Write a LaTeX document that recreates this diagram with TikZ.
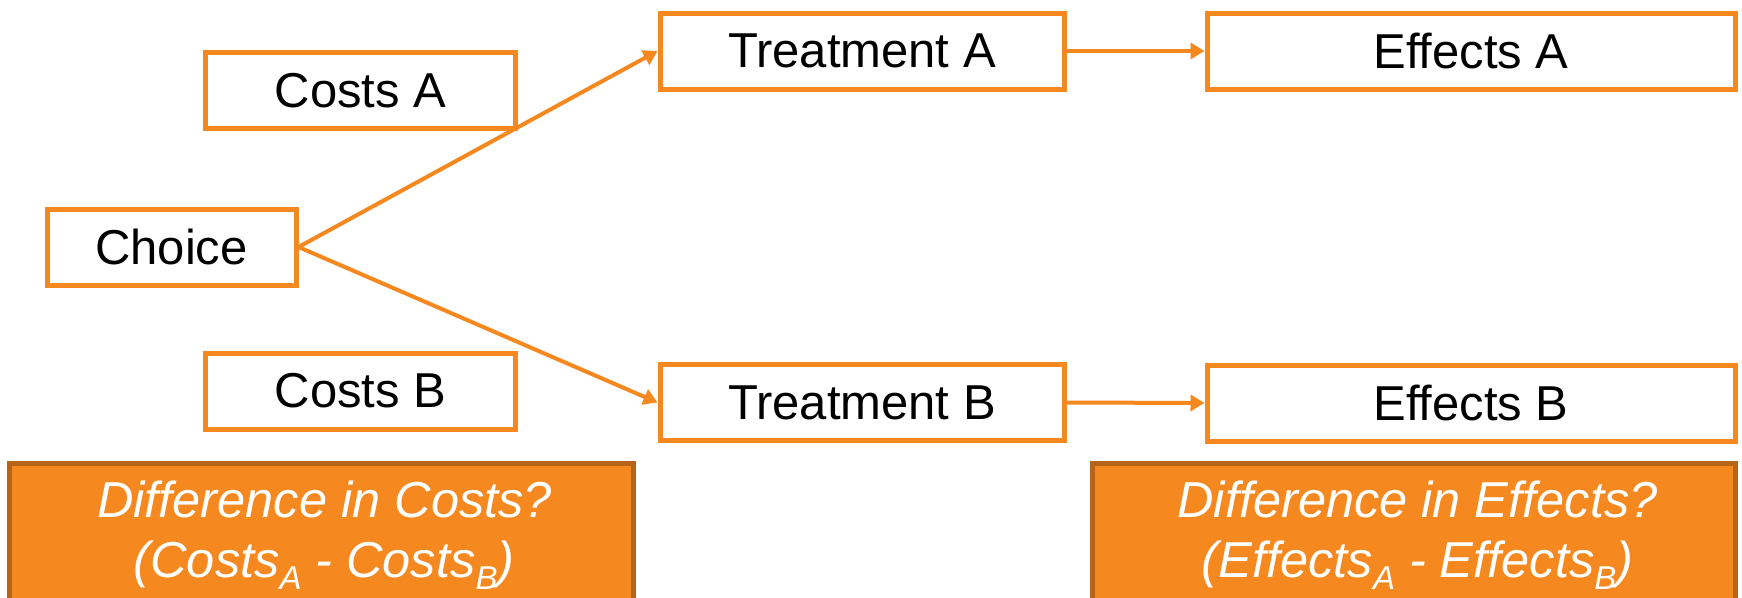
\documentclass[tikz,border=0pt]{standalone}
\usepackage{fontspec}
\setmainfont{Liberation Sans}
\usetikzlibrary{arrows.meta}
\definecolor{orng}{RGB}{245,137,31}
\definecolor{orngdark}{RGB}{181,100,25}
\newcommand\subtxt[1]{\raisebox{-12pt}{\fontsize{33}{33}\selectfont #1}}
\begin{document}
\begin{tikzpicture}[x=1pt,y=-1pt,
  box/.style={draw=orng, line width=5pt, fill=white, inner sep=0pt,
    font=\fontsize{49}{59}\selectfont},
  diffbox/.style={draw=orngdark, fill=orng, line width=5pt, inner sep=0pt},
  difftext/.style={text=white, inner sep=0pt, font=\fontsize{50.5}{60}\selectfont\itshape},
  conn/.style={draw=orng, line width=4pt, -{Triangle[length=14pt,width=16pt]}}]
\useasboundingbox (0,0) rectangle (1742,597);
\clip (0,0) rectangle (1742,597);
\node[box, minimum width=310, minimum height=76] (costsA) at (360.5,90.5) {Costs A};
\node[box, minimum width=249, minimum height=76] (choice) at (171.5,247) {Choice};
\node[box, minimum width=404, minimum height=76] (treatA) at (862,51) {Treatment A};
\node[box, minimum width=528, minimum height=76] (effA) at (1471,51) {Effects A};
\node[box, minimum width=310, minimum height=76] (costsB) at (360.5,391) {Costs B};
\node[box, minimum width=404, minimum height=76] (treatB) at (862,402.5) {Treatment B};
\node[box, minimum width=528, minimum height=76] (effB) at (1471,403) {Effects B};
\draw[conn] (choice.east) -- (treatA.west);
\draw[conn] (choice.east) -- (treatB.west);
\draw[conn] (treatA.east) -- (effA.west);
\draw[conn] (treatB.east) -- (effB.west);
\node[diffbox, minimum width=624, minimum height=200, anchor=north] (dcbox) at (321.5,460.5) {};
\node[diffbox, minimum width=643, minimum height=200, anchor=north] (debox) at (1414,460.5) {};
\node[difftext, anchor=base] (dc1) at (324.5,517) {Difference in Costs?};
\node[difftext, anchor=base] (dc2) at (324,577) {(Costs\subtxt{A} - Costs\subtxt{B})};
\node[difftext, anchor=base] (de1) at (1417.5,517) {Difference in Effects?};
\node[difftext, anchor=base] (de2) at (1417.5,577) {(Effects\subtxt{A} - Effects\subtxt{B})};
\end{tikzpicture}
\end{document}
